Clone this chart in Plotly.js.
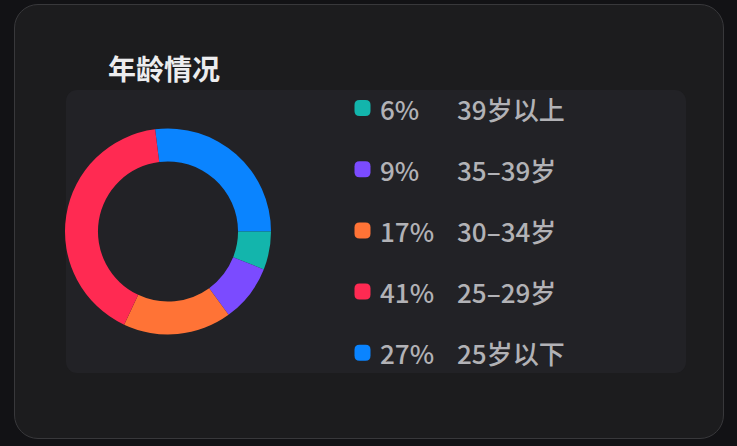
<!DOCTYPE html>
<html>
<head>
<meta charset="utf-8">
<script src="https://cdn.plot.ly/plotly-3.0.1.min.js"></script>
<style>
  html, body { margin: 0; padding: 0; background: #121215; width: 737px; height: 446px; overflow: hidden; }
  #card { position: absolute; left: 14px; top: 4px; width: 710px; height: 435px; box-sizing: border-box;
          background: #1c1c1e; border: 1px solid #38383b; border-radius: 24px; }
  #panel { position: absolute; left: 66px; top: 90px; width: 620px; height: 283px;
           background: #222226; border-radius: 11px; }
  #age-chart { position: absolute; left: 0; top: 0; width: 737px; height: 446px; }
</style>
</head>
<body>
<div id="card"></div>
<div id="panel"></div>
<div id="age-chart"></div>
<script>
// pie order, clockwise from the top
var ageGroups = ['25岁以下', '39岁以上', '35–39岁', '30–34岁', '25–29岁'];
var shares = [27, 6, 9, 17, 41];
var sliceColors = ['#0A84FF', '#13B5AC', '#7B4BFF', '#FF7336', '#FF2A52'];
// legend rows, top to bottom (index into the arrays above)
var legendOrder = [1, 2, 3, 4, 0];

var W = 737, H = 446;
function px(x) { return x / W; }
function py(y) { return 1 - y / H; }

// rounded square in paper coords from pixel box
function roundRect(x0, y0, x1, y1, r) {
  var p = 'M' + px(x0 + r) + ',' + py(y0) +
    ' L' + px(x1 - r) + ',' + py(y0) +
    ' Q' + px(x1) + ',' + py(y0) + ' ' + px(x1) + ',' + py(y0 + r) +
    ' L' + px(x1) + ',' + py(y1 - r) +
    ' Q' + px(x1) + ',' + py(y1) + ' ' + px(x1 - r) + ',' + py(y1) +
    ' L' + px(x0 + r) + ',' + py(y1) +
    ' Q' + px(x0) + ',' + py(y1) + ' ' + px(x0) + ',' + py(y1 - r) +
    ' L' + px(x0) + ',' + py(y0 + r) +
    ' Q' + px(x0) + ',' + py(y0) + ' ' + px(x0 + r) + ',' + py(y0) + ' Z';
  return p;
}

var donut = {
  type: 'pie',
  labels: ageGroups,
  values: shares,
  sort: false,
  direction: 'clockwise',
  rotation: -7.2,
  hole: 0.68,
  marker: { colors: sliceColors, line: { width: 0 } },
  textinfo: 'none',
  hoverinfo: 'label+percent',
  showlegend: false,
  domain: { x: [px(65), px(271)], y: [py(335), py(128)] }
};

var legendFont = { family: 'Noto Sans CJK SC', size: 26, weight: 500, color: '#b2b2b6' };

var shapes = [];
var annotations = [{
  text: '<b>年龄情况</b>',
  xref: 'paper', yref: 'paper', x: px(106), y: py(68),
  xanchor: 'left', yanchor: 'middle', showarrow: false,
  font: { family: 'Noto Sans CJK SC', size: 28, color: '#ececee' }
}];

legendOrder.forEach(function(k, row) {
  var cy = 108 + row * 61.2;
  shapes.push({
    type: 'path', xref: 'paper', yref: 'paper',
    path: roundRect(354.5, cy - 8, 370.5, cy + 8, 5),
    fillcolor: sliceColors[k], line: { width: 0 }
  });
  annotations.push({
    text: shares[k] + '%',
    xref: 'paper', yref: 'paper', x: px(378), y: py(cy),
    xanchor: 'left', yanchor: 'middle', showarrow: false,
    font: legendFont
  });
  annotations.push({
    text: ageGroups[k],
    xref: 'paper', yref: 'paper', x: px(455), y: py(cy),
    xanchor: 'left', yanchor: 'middle', showarrow: false,
    font: legendFont
  });
});

var layout = {
  width: W, height: H,
  margin: { l: 0, r: 0, t: 0, b: 0 },
  paper_bgcolor: 'rgba(0,0,0,0)',
  plot_bgcolor: 'rgba(0,0,0,0)',
  shapes: shapes,
  annotations: annotations
};

Plotly.newPlot('age-chart', [donut], layout, { displayModeBar: false, staticPlot: true });
</script>
</body>
</html>
